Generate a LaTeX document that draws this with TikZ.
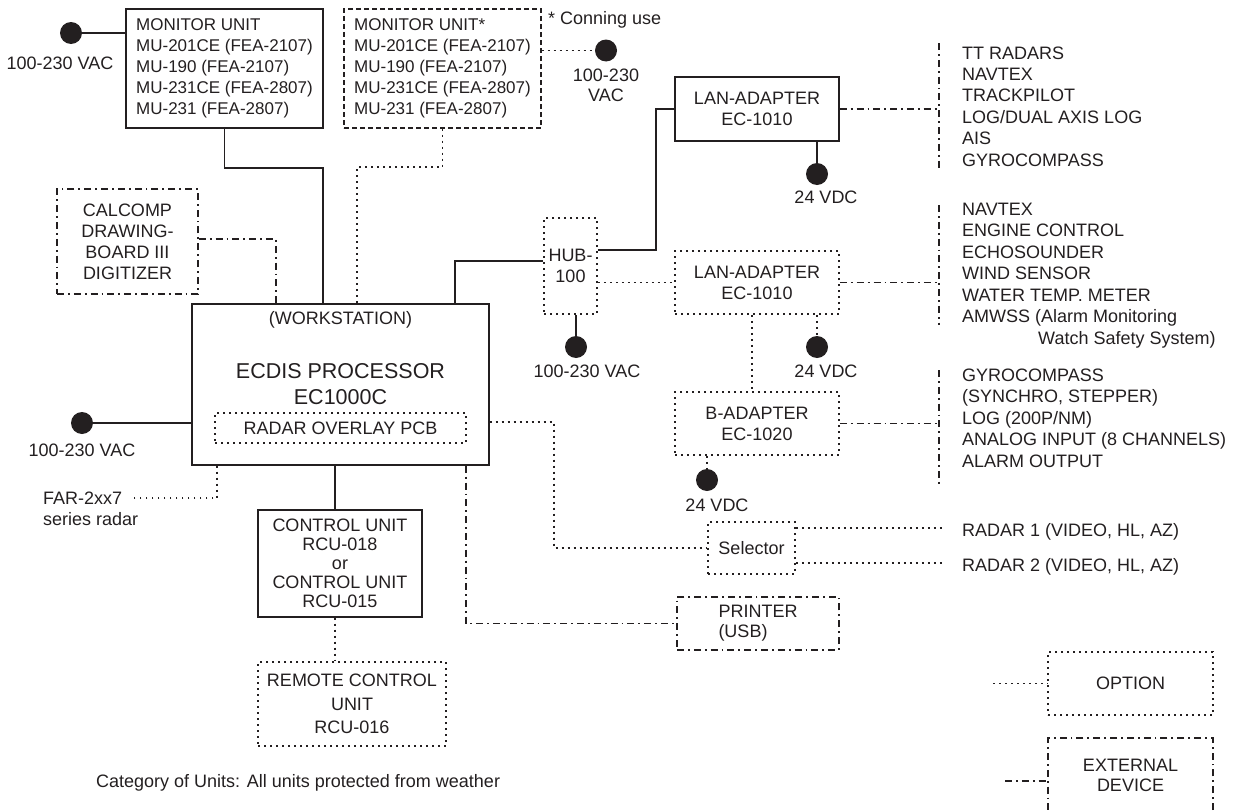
\documentclass[tikz,border=0pt]{standalone}
\usepackage{fontspec}
\setmainfont{Liberation Sans}
\definecolor{ink}{RGB}{35,31,32}
\begin{document}
\begin{tikzpicture}[x=1pt,y=-1pt,
  every node/.style={inner sep=0pt, text=ink, font=\fontsize{18}{21}\selectfont},
  solidbox/.style={draw=ink, line width=1.4pt},
  optbox/.style={draw=ink, line width=1.8pt, dash pattern=on 1.8pt off 4.2pt},
  extbox/.style={draw=ink, line width=1.5pt, dash pattern=on 7pt off 4pt on 1.8pt off 4pt},
  dashbox/.style={draw=ink, line width=1.4pt, dash pattern=on 5pt off 3pt},
  wire/.style={draw=ink, line width=1.4pt},
  optwire/.style={draw=ink, line width=1.8pt, dash pattern=on 1.8pt off 4.2pt},
  extwire/.style={draw=ink, line width=1.5pt, dash pattern=on 7pt off 4pt on 1.8pt off 4pt},
  pdot/.style={circle, fill=ink, minimum size=22pt, inner sep=0pt},
]
\useasboundingbox (0,0) rectangle (1235,811);

% ---------- monitor units ----------
\node[solidbox, minimum width=197pt, minimum height=119pt, align=left, font=\fontsize{17}{21}\selectfont] (mu1) at (224.5,68.5)
  {MONITOR UNIT\\MU-201CE (FEA-2107)\\MU-190 (FEA-2107)\\MU-231CE (FEA-2807)\\MU-231 (FEA-2807)};
\node[dashbox, minimum width=197pt, minimum height=119pt, align=left, font=\fontsize{17}{21}\selectfont] (mu2) at (442.5,68.5)
  {MONITOR UNIT*\\MU-201CE (FEA-2107)\\MU-190 (FEA-2107)\\MU-231CE (FEA-2807)\\MU-231 (FEA-2807)};
\node[anchor=west] (conn) at (548,20) {* Conning use};

\node[pdot] (d1) at (71,33) {};
\node (d1l) at (60,63) {100-230 VAC};
\node[pdot] (d2) at (606,50.5) {};
\node[align=center, font=\fontsize{18}{20}\selectfont] (d2l) at (606,85) {100-230\\VAC};

% ---------- calcomp ----------
\node[extbox, minimum width=141pt, minimum height=105pt, align=center] (calc) at (127.5,241.5)
  {CALCOMP\\DRAWING-\\BOARD III\\DIGITIZER};

% ---------- ECDIS ----------
\node[solidbox, minimum width=297pt, minimum height=161pt] (ecdis) at (340.5,384.5) {};
\node (ws) at (340.5,320) {(WORKSTATION)};
\node[align=center, font=\fontsize{21.5}{26}\selectfont] (ep) at (340.5,384) {ECDIS PROCESSOR\\EC1000C};
\node[optbox, minimum width=251pt, minimum height=30pt] (pcb) at (340.5,428) {RADAR OVERLAY PCB};

\node[pdot] (d7) at (82,423) {};
\node (d7l) at (82,450) {100-230 VAC};
\node[anchor=west, align=left] (far) at (43,508.5) {FAR-2xx7\\series radar};
\coordinate (farend) at (131,498);

% ---------- control units ----------
\node[solidbox, minimum width=164pt, minimum height=107pt, align=center, font=\fontsize{18}{19}\selectfont] (control) at (340,563.5)
  {CONTROL UNIT\\RCU-018\\or\\CONTROL UNIT\\RCU-015};
\node[optbox, minimum width=188pt, minimum height=84pt, align=center, font=\fontsize{18}{23.5}\selectfont] (remote) at (352,704)
  {REMOTE CONTROL\\UNIT\\RCU-016};
\node[anchor=west] (cat) at (96,783) {Category of Units: All units protected from weather};

% ---------- LAN side ----------
\node[solidbox, minimum width=164pt, minimum height=64pt, align=center] (lan1) at (757,109) {LAN-ADAPTER\\EC-1010};
\node[pdot] (d3) at (817,174) {};
\node (d3l) at (826,197) {24 VDC};

\node[optbox, minimum width=53pt, minimum height=96pt, align=center] (hub) at (570.5,266) {HUB-\\100};
\node[pdot] (d4) at (576,347) {};
\node (d4l) at (587,371) {100-230 VAC};

\node[optbox, minimum width=164pt, minimum height=63pt, align=center] (lan2) at (757,282.5) {LAN-ADAPTER\\EC-1010};
\node[pdot] (d5) at (817,347) {};
\node (d5l) at (826,371) {24 VDC};

\node[optbox, minimum width=164pt, minimum height=63pt, align=center] (badp) at (757,423.5) {B-ADAPTER\\EC-1020};
\node[pdot] (d6) at (707,480) {};
\node (d6l) at (717,505) {24 VDC};

\node[optbox, minimum width=87pt, minimum height=52pt] (sel) at (751.5,548) {Selector};
\node[extbox, minimum width=162pt, minimum height=53pt, align=left, font=\fontsize{18}{20}\selectfont] (printer) at (758,623.5) {PRINTER\\(USB)};

\node[anchor=west] (r1) at (962,532) {RADAR 1 (VIDEO, HL, AZ)};
\node[anchor=west] (r2) at (962,567) {RADAR 2 (VIDEO, HL, AZ)};

% ---------- external device lists ----------
\node[anchor=west, align=left, font=\fontsize{18}{21.4}\selectfont] (ext1) at (962,106.5)
  {TT RADARS\\NAVTEX\\TRACKPILOT\\LOG/DUAL AXIS LOG\\AIS\\GYROCOMPASS};
\node[anchor=west, align=left, font=\fontsize{18}{21.5}\selectfont] (ext2) at (962,275.5)
  {NAVTEX\\ENGINE CONTROL\\ECHOSOUNDER\\WIND SENSOR\\WATER TEMP. METER\\AMWSS (Alarm Monitoring\\\hspace*{76pt}Watch Safety System)};
\node[anchor=west, align=left, font=\fontsize{18}{21.5}\selectfont] (ext3) at (962,418)
  {GYROCOMPASS\\(SYNCHRO, STEPPER)\\LOG (200P/NM)\\ANALOG INPUT (8 CHANNELS)\\ALARM OUTPUT};

% ---------- legend ----------
\node[optbox, minimum width=165pt, minimum height=63pt] (option) at (1130.5,683.5) {OPTION};
\node[extbox, minimum width=165pt, minimum height=75pt, align=center, font=\fontsize{18}{20}\selectfont] (extdev) at (1130.5,775.5) {EXTERNAL\\DEVICE};
\coordinate (optstub) at (993,683.5);
\coordinate (extstub) at (1005,781);

% ---------- junction coordinates ----------
\coordinate (j1) at (323,168);
\coordinate (j2) at (357,167);
\coordinate (j3) at (276,239);
\coordinate (j4) at (217,498);
\coordinate (j5) at (335,0);
\coordinate (j6) at (455,261);
\coordinate (j7) at (656,250);
\coordinate (j8) at (554,422);
\coordinate (j9) at (466,0);
\coordinate (j10) at (752,0);
\coordinate (b1t) at (939,43);  \coordinate (b1b) at (939,168);
\coordinate (b2t) at (939,205); \coordinate (b2b) at (939,325);
\coordinate (b3t) at (939,370); \coordinate (b3b) at (939,487);
\coordinate (r1e) at (945,528);
\coordinate (r2e) at (945,563);

% ---------- connectors ----------
\draw[wire] (d1) -- (d1 -| mu1.west);
\draw[wire] (mu1.south) |- (j1) -- (j1 |- ecdis.north);
\draw[optwire] (mu2.south) |- (j2) -- (j2 |- ecdis.north);
\draw[optwire] (d2 -| mu2.east) -- (d2);
\draw[extwire] (calc.east |- j3) -- (j3) -- (j3 |- ecdis.north);
\draw[wire] (d7) -- (d7 -| ecdis.west);
\draw[optwire] (j4 |- ecdis.south) -- (j4) -- (farend);
\draw[wire] (j5 |- ecdis.south) -- (j5 |- control.north);
\draw[optwire] (j5 |- control.south) -- (j5 |- remote.north);

\draw[wire] (j6 |- ecdis.north) -- (j6) -- (j6 -| hub.west);
\draw[wire] (j7 -| hub.east) -- (j7) |- (lan1.west);
\draw[wire] (d4 |- hub.south) -- (d4);
\draw[optwire] (hub.east |- lan2.west) -- (lan2.west);
\draw[wire] (d3 |- lan1.south) -- (d3);
\draw[optwire] (d5 |- lan2.south) -- (d5);
\draw[optwire] (j10 |- lan2.south) -- (j10 |- badp.north);
\draw[optwire] (d6 |- badp.south) -- (d6);

\draw[extwire] (lan1.east) -- (lan1.east -| b1t);
\draw[extwire] (b1t) -- (b1b);
\draw[extwire] (lan2.east) -- (lan2.east -| b2t);
\draw[extwire] (b2t) -- (b2b);
\draw[extwire] (badp.east) -- (badp.east -| b3t);
\draw[extwire] (b3t) -- (b3b);

\draw[optwire] (j8 -| ecdis.east) -- (j8) |- (sel.west);
\draw[optwire] (sel.east |- r1e) -- (r1e);
\draw[optwire] (sel.east |- r2e) -- (r2e);
\draw[extwire] (j9 |- ecdis.south) -- (j9 |- printer.west) -- (printer.west);

\draw[optwire] (optstub) -- (option.west);
\draw[extwire] (extstub) -- (extstub -| extdev.west);
\end{tikzpicture}
\end{document}
